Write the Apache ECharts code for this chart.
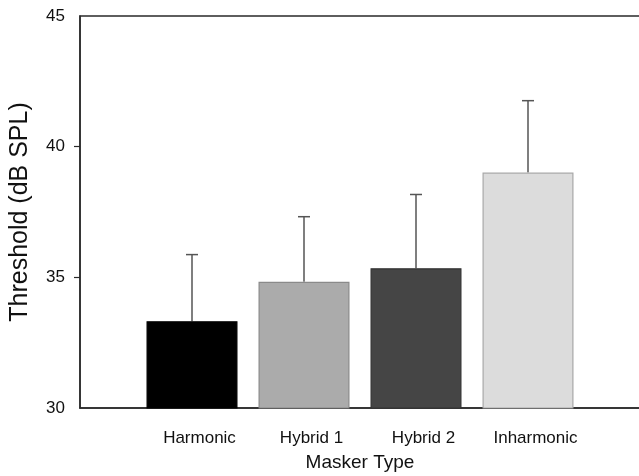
<!DOCTYPE html>
<html>
<head>
<meta charset="utf-8">
<script src="https://cdn.jsdelivr.net/npm/echarts@6/dist/echarts.min.js"></script>
<style>html,body{margin:0;padding:0;background:#fff;}#c{width:639px;height:476px;}</style>
</head>
<body>
<div id="c"></div>
<script>
var categories = ['', 'Harmonic', 'Hybrid 1', 'Hybrid 2', 'Inharmonic', ''];
var means = [null, 33.32, 34.83, 35.35, 39.01, null];
var upperErr = [null, 35.87, 37.32, 38.17, 41.76, null];
var barColors = ['#000000', '#000000', '#ababab', '#454545', '#dcdcdc', '#000000'];
var barBorders = ['#000000', '#000000', '#8a8a8a', '#333333', '#a8a8a8', '#000000'];
var yTicks = [30, 35, 40, 45];

var font = '"Liberation Sans", Arial, Helvetica, sans-serif';
var chart = echarts.init(document.getElementById('c'), null, {renderer: 'canvas'});

var barData = [];
var errData = [];
for (var i = 0; i < categories.length; i++) {
  if (means[i] == null) { barData.push('-'); continue; }
  barData.push({value: means[i], itemStyle: {color: barColors[i], borderColor: barBorders[i], borderWidth: 1.2}});
  errData.push([i, means[i], upperErr[i]]);
}

chart.setOption({
  animation: false,
  backgroundColor: '#fff',
  grid: {left: 80, right: -1, top: 16, bottom: 68, outerBoundsMode: 'none', containLabel: false, show: true, borderColor: '#2a2a2a', borderWidth: 1.5, backgroundColor: 'transparent'},
  xAxis: {
    type: 'category',
    data: categories,
    boundaryGap: false,
    name: 'Masker Type',
    nameLocation: 'middle',
    nameGap: 45,
    nameTextStyle: {fontFamily: font, fontSize: 19, color: '#111'},
    axisLine: {lineStyle: {color: '#2a2a2a', width: 1.5}},
    axisTick: {show: false},
    axisLabel: {fontFamily: font, fontSize: 17, color: '#111', margin: 22, padding: [0, 0, 0, 15], interval: 0},
    splitLine: {show: false}
  },
  yAxis: {
    type: 'value',
    min: 30, max: 45, interval: 5,
    name: 'Threshold (dB SPL)',
    nameLocation: 'middle',
    nameGap: 47,
    nameTextStyle: {fontFamily: font, fontSize: 25, color: '#111'},
    axisLine: {show: true, lineStyle: {color: '#2a2a2a', width: 1.5}},
    axisTick: {show: true, inside: false, length: 6, customValues: [35, 40], lineStyle: {color: '#2a2a2a', width: 1.2}},
    axisLabel: {fontFamily: font, fontSize: 17, color: '#111', margin: 15, customValues: yTicks},
    splitLine: {show: false}
  },
  series: [
    {
      type: 'custom',
      z: 1,
      renderItem: function (params, api) {
        var x = api.value(0);
        var base = api.coord([x, api.value(1)]);
        var top = api.coord([x, api.value(2)]);
        var cap = 6;
        return {
          type: 'group',
          children: [
            {type: 'line', shape: {x1: base[0], y1: base[1], x2: top[0], y2: top[1]}, style: {stroke: '#555', lineWidth: 1.5}},
            {type: 'line', shape: {x1: top[0] - cap, y1: top[1], x2: top[0] + cap, y2: top[1]}, style: {stroke: '#555', lineWidth: 1.5}}
          ]
        };
      },
      data: errData
    },
    {
      type: 'bar',
      z: 2,
      barWidth: 91,
      data: barData
    }
  ]
});
</script>
</body>
</html>
